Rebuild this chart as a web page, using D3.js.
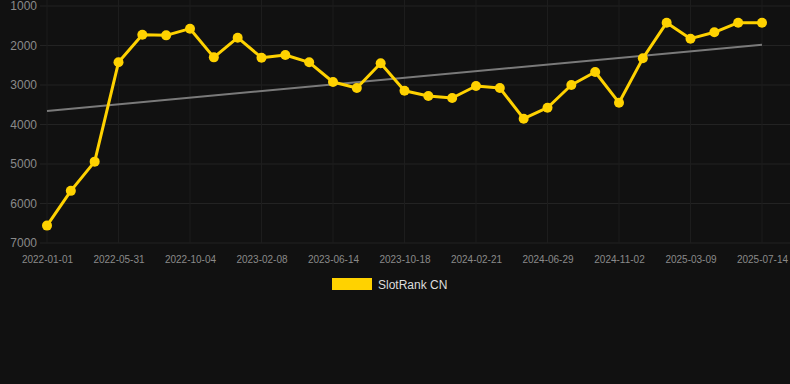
<!DOCTYPE html>
<html><head><meta charset="utf-8">
<script src="https://cdn.jsdelivr.net/npm/d3@7"></script>
<style>
html,body{margin:0;padding:0;background:#111111;}
svg{display:block;}
</style></head>
<body><svg id="chart" width="790" height="384"></svg>
<script>
// Data (rank values, lower is better; axis reversed)
const tickLabels = ["2022-01-01","2022-05-31","2022-10-04","2023-02-08","2023-06-14","2023-10-18","2024-02-21","2024-06-29","2024-11-02","2025-03-09","2025-07-14"];
const tickIndices = [0,3,6,9,12,15,18,21,24,27,30];
const rankValues = [6560,5680,4940,2425,1726,1743,1574,2300,1802,2308,2241,2426,2924,3076,2451,3144,3278,3329,3025,3076,3853,3575,3000,2671,3448,2325,1422,1827,1666,1422,1422];
const trendValues = [3658,1980]; // at first and last index
const yTicks = [1000,2000,3000,4000,5000,6000,7000];
const seriesName = "SlotRank CN";

const svg = d3.select("#chart");
const x = d3.scaleLinear().domain([0, rankValues.length-1]).range([47, 762]);
const y = d3.scaleLinear().domain([1000, 7000]).range([6, 243]);

// grid
const g = svg.append("g");
g.selectAll("line.h").data(yTicks).join("line")
  .attr("x1", 40).attr("x2", 790)
  .attr("y1", d=>y(d)).attr("y2", d=>y(d))
  .attr("stroke", "#232323").attr("stroke-width", 1);
g.selectAll("line.v").data(tickIndices).join("line")
  .attr("x1", d=>x(d)).attr("x2", d=>x(d))
  .attr("y1", 0).attr("y2", 243)
  .attr("stroke", "#1d1d1d").attr("stroke-width", 1);

// y axis
const yAxis = d3.axisLeft(y).tickValues(yTicks).tickSize(0).tickPadding(0).tickFormat(d3.format("d"));
const ya = svg.append("g").attr("transform", "translate(37,0)").call(yAxis);
ya.select(".domain").remove();
ya.selectAll("text").attr("fill", "#8a8a8a").style("font-family", "Arial, 'Liberation Sans', sans-serif").style("font-size", "12px");

// x axis
const xAxis = d3.axisBottom(x).tickValues(tickIndices).tickSize(0).tickPadding(0)
  .tickFormat((d,i)=>tickLabels[i]);
const xa = svg.append("g").attr("transform", "translate(0,259)").call(xAxis);
xa.select(".domain").remove();
xa.selectAll("text").attr("fill", "#8a8a8a").attr("dy", "0.35em").style("font-family", "Arial, 'Liberation Sans', sans-serif").style("font-size", "10px");

// trend line
svg.append("line")
  .attr("x1", x(0)).attr("x2", x(rankValues.length-1))
  .attr("y1", y(trendValues[0])).attr("y2", y(trendValues[1]))
  .attr("stroke", "#7a7a7a").attr("stroke-width", 2);

// series line
const line = d3.line().x((d,i)=>x(i)).y(d=>y(d));
svg.append("path").datum(rankValues)
  .attr("d", line).attr("fill", "none")
  .attr("stroke", "#FFD200").attr("stroke-width", 3).attr("stroke-linejoin", "round");
svg.selectAll("circle.pt").data(rankValues).join("circle")
  .attr("cx", (d,i)=>x(i)).attr("cy", d=>y(d)).attr("r", 5)
  .attr("fill", "#FFD200");

// legend
svg.append("rect").attr("x", 332).attr("y", 278).attr("width", 40).attr("height", 12).attr("fill", "#FFD200");
svg.append("text").attr("x", 378).attr("y", 288.5).text(seriesName)
  .attr("fill", "#dddddd").style("font-family", "Arial, 'Liberation Sans', sans-serif").style("font-size", "12px");
</script></body></html>
